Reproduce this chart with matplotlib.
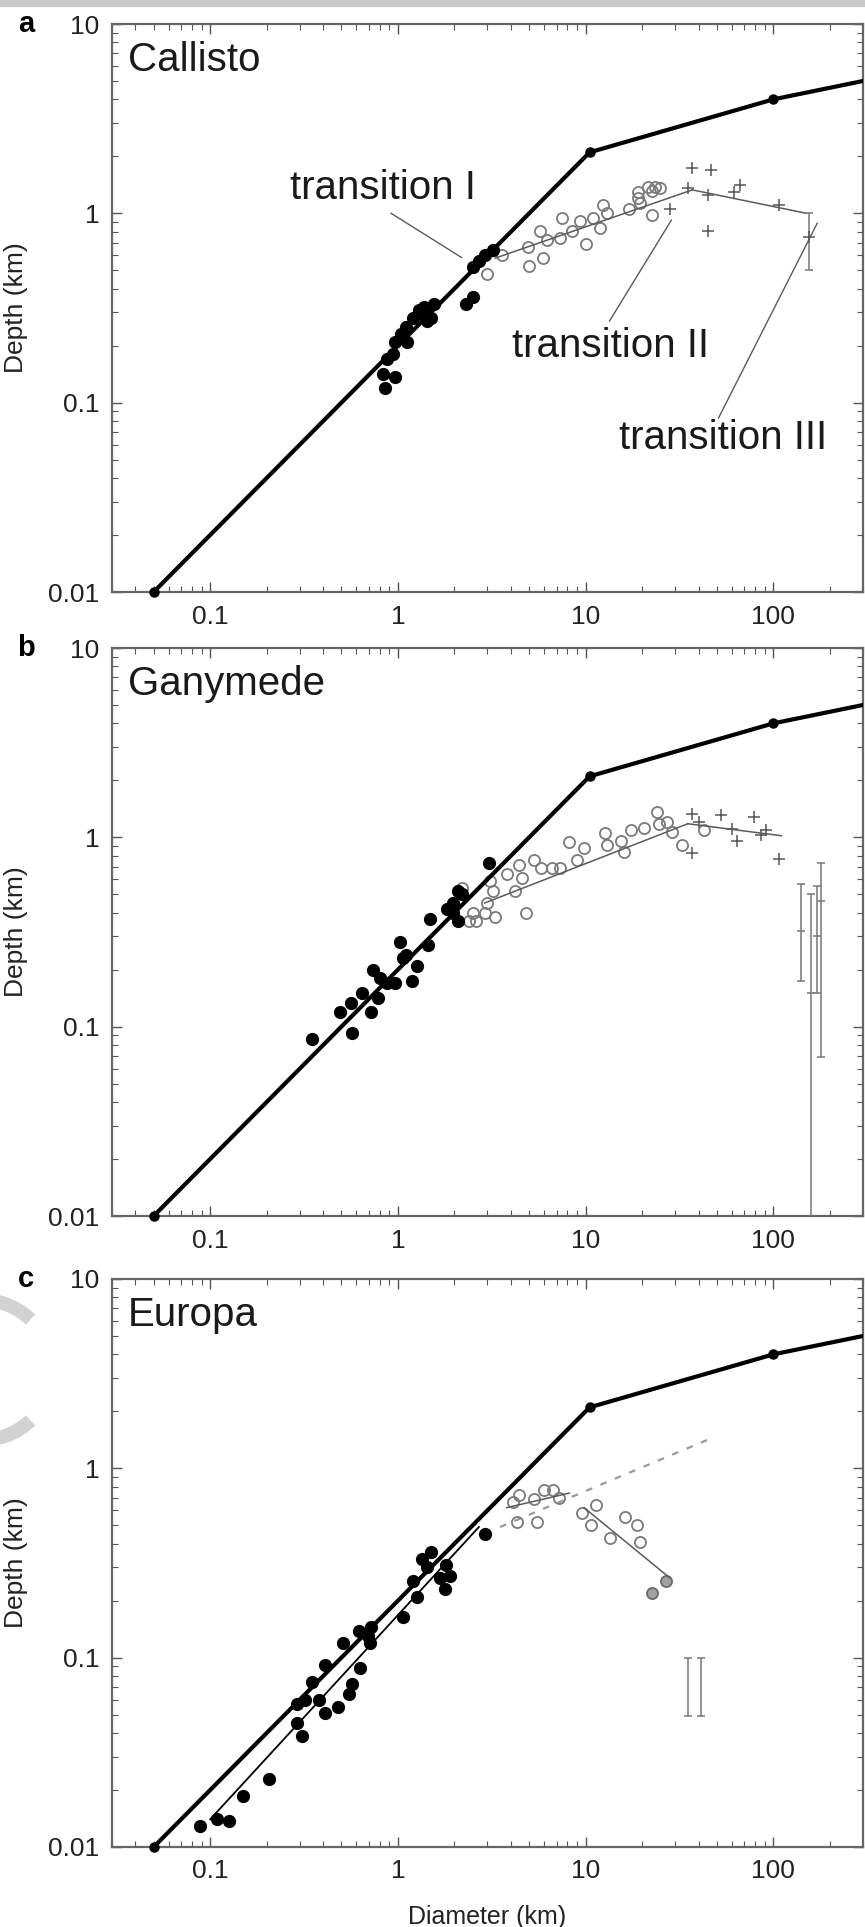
import matplotlib as mpl
mpl.use('Agg')
import matplotlib.pyplot as plt
from matplotlib import ticker
from matplotlib.patches import Rectangle, Arc

plt.rcParams['font.family'] = ['Liberation Sans', 'DejaVu Sans']

# envelope line (same in all three panels)
env_d = [0.05, 10.5, 100, 300]
env_h = [0.01, 2.1, 4.0, 5.0]

# --- Callisto ---
cal_simple_d = [0.85, 0.96, 0.83, 0.88, 0.94, 0.97, 1.04, 1.1, 1.12, 1.2, 1.3, 1.38, 1.38, 1.43, 1.5, 1.55,
                2.3, 2.5, 2.5, 2.7, 2.9, 3.2]
cal_simple_h = [0.12, 0.136, 0.142, 0.17, 0.18, 0.21, 0.23, 0.25, 0.21, 0.28, 0.31, 0.29, 0.32, 0.27, 0.28, 0.33,
                0.33, 0.36, 0.52, 0.56, 0.6, 0.64]
cal_complex_d = [3.0, 3.6, 4.9, 5.0, 5.7, 5.9, 6.2, 7.3, 7.5, 8.5, 9.3, 10.1, 10.9, 11.9, 12.4, 13, 17, 19,
                 19.5, 19, 21.4, 22.5, 22.5, 23.4, 25]
cal_complex_h = [0.48, 0.6, 0.66, 0.53, 0.81, 0.58, 0.72, 0.74, 0.95, 0.81, 0.91, 0.69, 0.95, 0.84, 1.1, 1.0,
                 1.05, 1.2, 1.14, 1.29, 1.37, 0.98, 1.32, 1.37, 1.36]
cal_cross_d = [28, 35, 37, 45, 45, 46.5, 62, 66, 107]
cal_cross_h = [1.06, 1.36, 1.73, 1.25, 0.81, 1.7, 1.29, 1.41, 1.1]
cal_fit1_d = [3.3, 37]
cal_fit1_h = [0.58, 1.33]
cal_fit2_d = [37, 150]
cal_fit2_h = [1.33, 1.0]
cal_err_d = [155]
cal_err_mid = [0.75]
cal_err_lo = [0.5]
cal_err_hi = [1.0]

# --- Ganymede ---
gan_simple_d = [0.35, 0.57, 0.49, 0.56, 0.64, 0.72, 0.78, 0.74, 0.8, 0.88, 0.96, 1.02, 1.06, 1.1, 1.26, 1.19,
                1.44, 1.48, 1.83, 1.97, 2.08, 2.2, 2.1, 3.07, 1.97]
gan_simple_h = [0.086, 0.093, 0.119, 0.134, 0.15, 0.12, 0.142, 0.2, 0.18, 0.17, 0.17, 0.28, 0.23, 0.24, 0.21, 0.175,
                0.27, 0.37, 0.42, 0.45, 0.36, 0.5, 0.52, 0.73, 0.4]
gan_complex_d = [2.2, 2.4, 2.6, 2.5, 2.9, 3.3, 3.0, 3.1, 3.2, 4.4, 4.2, 4.8, 5.3, 5.8, 6.6, 8.2, 9.0, 4.6, 3.8,
                 7.3, 9.8, 12.6, 13, 15.5, 16, 17.5, 20.5, 24, 24.6, 27, 29, 32.6, 42.8]
gan_complex_h = [0.54, 0.36, 0.36, 0.4, 0.4, 0.38, 0.45, 0.59, 0.52, 0.71, 0.52, 0.4, 0.76, 0.69, 0.69, 0.94, 0.76,
                 0.61, 0.64, 0.69, 0.88, 1.05, 0.91, 0.96, 0.84, 1.09, 1.12, 1.36, 1.17, 1.2, 1.07, 0.91, 1.09]
gan_cross_d = [37, 37, 40, 52.7, 60, 64, 79, 86, 91, 107]
gan_cross_h = [1.33, 0.83, 1.2, 1.31, 1.1, 0.96, 1.28, 1.03, 1.09, 0.77]
gan_fit1_d = [2.9, 35]
gan_fit1_h = [0.45, 1.18]
gan_fit2_d = [35, 110]
gan_fit2_h = [1.18, 1.02]
gan_err_d = [140, 158, 170, 180]
gan_err_lo = [0.175, 0.005, 0.15, 0.069]
gan_err_hi = [0.57, 0.5, 0.55, 0.73]
gan_err_mid = [0.32, 0.15, 0.3, 0.46]

# --- Europa ---
eur_simple_d = [0.088, 0.109, 0.126, 0.149, 0.207, 0.31, 0.29, 0.29, 0.32, 0.35, 0.41, 0.38, 0.41, 0.48, 0.55,
                0.57, 0.63, 0.51, 0.62, 0.71, 0.69, 0.72, 1.06, 1.2, 1.34, 1.27, 1.68, 1.8, 1.78, 1.42, 1.5, 1.9, 2.9]
eur_simple_h = [0.0129, 0.0141, 0.0138, 0.0186, 0.0229, 0.0386, 0.045, 0.057, 0.06, 0.074, 0.091, 0.06, 0.051,
                0.055, 0.064, 0.073, 0.088, 0.12, 0.139, 0.12, 0.13, 0.145, 0.163, 0.255, 0.33, 0.21, 0.265, 0.31,
                0.23, 0.3, 0.36, 0.27, 0.45]
eur_complex_d = [4.4, 4.1, 4.3, 5.3, 5.5, 6.0, 6.7, 7.2, 9.6, 11.4, 10.7, 13.4, 16.1, 18.8, 19.4]
eur_complex_h = [0.72, 0.66, 0.52, 0.69, 0.52, 0.77, 0.77, 0.70, 0.58, 0.64, 0.50, 0.43, 0.55, 0.50, 0.41]
eur_dark_d = [22.6, 26.9]
eur_dark_h = [0.22, 0.255]
eur_fit0_d = [0.1, 2.7]
eur_fit0_h = [0.014, 0.49]
eur_fit1_d = [3.8, 8.2]
eur_fit1_h = [0.62, 0.74]
eur_fit2_d = [9.8, 27.9]
eur_fit2_h = [0.62, 0.265]
eur_dash_d = [3.5, 45]
eur_dash_h = [0.49, 1.42]
eur_err_d = [35, 41]
eur_err_lo = [0.049, 0.049]
eur_err_hi = [0.1, 0.1]

W, H = 865, 1927
fig = plt.figure(figsize=(W / 100.0, H / 100.0), dpi=100)
fig.patches.append(Rectangle((0, 1 - 6.0 / H), 1, 6.0 / H, transform=fig.transFigure,
                             color='#c9c9c9', zorder=0))

GRAY = '#7a7a7a'
LINE = '#5a5a5a'


def setup_axes(top_px, letter, name):
    bottom = 1 - (top_px + 568.0) / H
    ax = fig.add_axes([112.0 / W, bottom, 751.0 / W, 568.0 / H])
    ax.set_xscale('log')
    ax.set_yscale('log')
    ax.set_xlim(0.03, 300)
    ax.set_ylim(0.01, 10)
    ax.xaxis.set_major_locator(ticker.FixedLocator([0.1, 1, 10, 100]))
    ax.xaxis.set_major_formatter(ticker.FixedFormatter(['0.1', '1', '10', '100']))
    ax.yaxis.set_major_locator(ticker.FixedLocator([0.01, 0.1, 1, 10]))
    ax.yaxis.set_major_formatter(ticker.FixedFormatter(['0.01', '0.1', '1', '10']))
    ax.xaxis.set_minor_locator(ticker.LogLocator(subs=range(2, 10), numticks=20))
    ax.yaxis.set_minor_locator(ticker.LogLocator(subs=range(2, 10), numticks=20))
    ax.xaxis.set_minor_formatter(ticker.NullFormatter())
    ax.yaxis.set_minor_formatter(ticker.NullFormatter())
    ax.tick_params(which='both', direction='in', top=True, right=True, color='#555555',
                   labelsize=19, labelcolor='#222222')
    ax.tick_params(which='major', length=7, width=1.0, pad=9)
    ax.tick_params(which='minor', length=4, width=0.8)
    for s in ax.spines.values():
        s.set_color('#666666')
        s.set_linewidth(1.6)
    ax.set_ylabel('Depth (km)', fontsize=19, color='#222222')
    ax.yaxis.set_label_coords(-0.112, 0.5)
    ax.text(0.021, 0.937, name, transform=ax.transAxes, fontsize=29, color='#1a1a1a',
            ha='left', va='center')
    fig.text(26.0 / W, 1 - top_px / H, letter, fontsize=21, fontweight='bold',
             ha='center', va='center')
    ax.plot(env_d, env_h, '-', color='black', lw=3.0, zorder=5)
    ax.plot(env_d[:3], env_h[:3], 'o', color='black', ms=6.5, zorder=6, clip_on=False)
    return ax


def simple(ax, d, h):
    ax.plot(d, h, 'o', color='black', ms=8.5, mec='black', zorder=4)


def complex_(ax, d, h):
    ax.plot(d, h, 'o', mfc='none', mec=GRAY, mew=1.3, ms=8, zorder=3)


def crosses(ax, d, h):
    ax.plot(d, h, '+', color='#555555', mew=1.1, ms=8, zorder=3)


def errbars(ax, d, lo, hi, mid=None):
    ax.vlines(d, lo, hi, color='#777777', lw=1.1, zorder=3)
    ax.plot(d, lo, '_', color='#777777', ms=6, mew=1.1, zorder=3)
    ax.plot(d, hi, '_', color='#777777', ms=6, mew=1.1, zorder=3)
    if mid is not None:
        ax.plot(d, mid, '_', color='#777777', ms=6, mew=1.1, zorder=3)


# panel a
axa = setup_axes(24, 'a', 'Callisto')
complex_(axa, cal_complex_d, cal_complex_h)
crosses(axa, cal_cross_d, cal_cross_h)
simple(axa, cal_simple_d, cal_simple_h)
axa.plot(cal_fit1_d, cal_fit1_h, '-', color=LINE, lw=1.1, zorder=3)
axa.plot(cal_fit2_d, cal_fit2_h, '-', color=LINE, lw=1.1, zorder=3)
errbars(axa, cal_err_d, cal_err_lo, cal_err_hi)
crosses(axa, cal_err_d, cal_err_mid)
axa.text(0.265, 1.36, 'transition I', fontsize=29, color='#1a1a1a', ha='left', va='center')
axa.plot([0.92, 2.18], [1.0, 0.585], '-', color=LINE, lw=1.0)
axa.text(4.07, 0.198, 'transition II', fontsize=29, color='#1a1a1a', ha='left', va='center')
axa.plot([13.4, 28.6], [0.27, 0.92], '-', color=LINE, lw=1.0)
axa.text(15.1, 0.065, 'transition III', fontsize=29, color='#1a1a1a', ha='left', va='center')
axa.plot([51, 171], [0.083, 0.885], '-', color=LINE, lw=1.0)

# panel b
axb = setup_axes(648, 'b', 'Ganymede')
complex_(axb, gan_complex_d, gan_complex_h)
crosses(axb, gan_cross_d, gan_cross_h)
simple(axb, gan_simple_d, gan_simple_h)
axb.plot(gan_fit1_d, gan_fit1_h, '-', color=LINE, lw=1.1, zorder=3)
axb.plot(gan_fit2_d, gan_fit2_h, '-', color=LINE, lw=1.1, zorder=3)
errbars(axb, gan_err_d, gan_err_lo, gan_err_hi, gan_err_mid)

# panel c
axc = setup_axes(1279, 'c', 'Europa')
complex_(axc, eur_complex_d, eur_complex_h)
axc.plot(eur_dark_d, eur_dark_h, 'o', mfc='#a0a0a0', mec='#6a6a6a', mew=1.3, ms=8, zorder=3)
simple(axc, eur_simple_d, eur_simple_h)
axc.plot(eur_fit0_d, eur_fit0_h, '-', color='black', lw=1.3, zorder=4)
axc.plot(eur_fit1_d, eur_fit1_h, '-', color=LINE, lw=1.1, zorder=3)
axc.plot(eur_fit2_d, eur_fit2_h, '-', color=LINE, lw=1.1, zorder=3)
axc.plot(eur_dash_d, eur_dash_h, '--', color='#9a9a9a', lw=1.6, dashes=(3, 4), zorder=2)
errbars(axc, eur_err_d, eur_err_lo, eur_err_hi)
axc.set_xlabel('Diameter (km)', fontsize=18, color='#222222')
axc.xaxis.set_label_coords(0.5, -0.102)

# faint grey "C" mark cut by the left edge of panel c
for t1, t2 in [(25, 100), (260, 335)]:
    fig.patches.append(Arc((-18.0 / W, 1 - 1370.0 / H), 140.0 / W, 140.0 / H, theta1=t1, theta2=t2,
                           transform=fig.transFigure, color='#d2d2d2', lw=10))

fig.savefig('out.png', dpi=100)
